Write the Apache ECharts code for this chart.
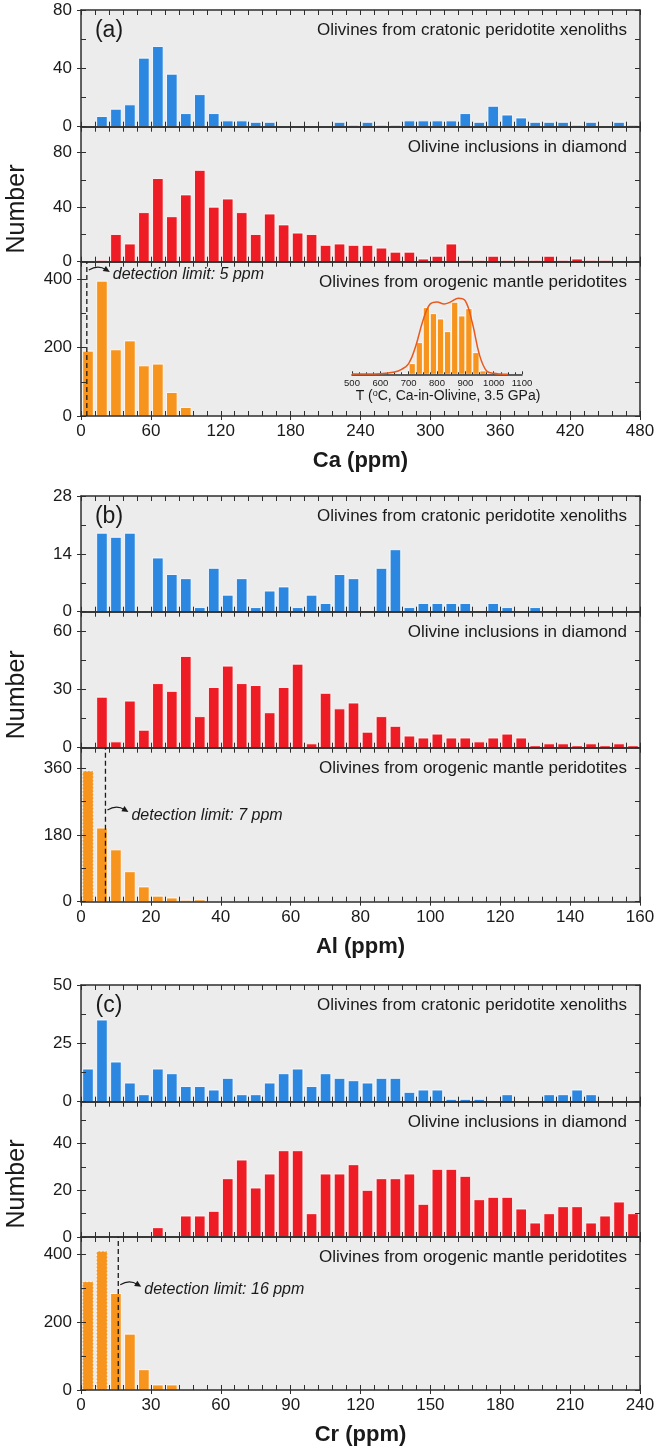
<!DOCTYPE html>
<html>
<head>
<meta charset="utf-8">
<script src="https://cdn.jsdelivr.net/npm/echarts@6/dist/echarts.min.js"></script>
<style>
  html, body { margin: 0; padding: 0; background: #fff; }
  #chart { width: 658px; height: 1447px; }
</style>
</head>
<body>
<div id="chart"></div>
<script>
// ---- Histogram bin widths (ppm) ----
const caBin = 12;
const alBin = 4;
const crBin = 6;

// ---- Counts per bin, first bin starts at 0 ppm ----
const caCratonic = [0, 7, 12, 15, 47, 55, 36, 9, 22, 9, 4, 4, 3, 3, 0, 0, 0, 0, 3, 1,
                    3, 1, 1, 4, 4, 4, 4, 9, 3, 14, 8, 6, 3, 3, 3, 1, 3, 0, 3, 1];
const caDiamond  = [0, 1, 20, 13, 36, 61, 33, 49, 67, 40, 46, 36, 20, 35, 27, 21, 20, 12, 13, 12,
                    12, 10, 7, 7, 2, 4, 13, 1, 1, 4, 1, 1, 1, 4, 1, 2, 1, 1, 0, 0];
const caOrogenic = [190, 395, 194, 220, 147, 152, 69, 25];

const alCratonic = [0, 19, 18, 19, 0, 13, 9, 8, 1, 10.5, 4, 8, 1, 5, 6, 1, 4, 2, 9, 8,
                    0, 10.5, 15, 1, 2, 2, 2, 2, 0, 2, 1, 0, 1, 0, 0, 0, 0, 0, 0, 0];
const alDiamond  = [0, 26, 3, 24, 9, 33, 29, 47, 16, 31, 42, 33, 32, 18, 31, 43, 2, 28, 20, 23,
                    8, 16, 11, 6, 5, 7, 5, 5, 3, 5, 7, 5, 1, 2, 2, 1, 2, 1, 2, 1];
const alOrogenic = [353, 199, 140, 81, 40, 15, 10, 4, 5];

const crCratonic = [14, 35, 17, 8, 3, 14, 12, 6.5, 6.5, 5, 10, 3, 3, 8, 12, 14, 6.5, 12, 10, 9,
                    8, 10, 10, 4, 5, 5, 1, 1, 1, 0, 3, 0, 0, 3, 3, 5, 3, 0, 0, 0];
const crDiamond  = [0, 0, 0, 0, 0, 4, 0, 9, 9, 11, 25, 33, 21, 27, 37, 37, 10, 27, 27, 31,
                    20, 25, 25, 27, 14, 29, 29, 26, 16, 17, 17, 12, 6, 10, 13, 13, 6, 9, 15, 10];
const crOrogenic = [320, 410, 285, 165, 60, 15, 15];

// ---- Detection limits (ppm) ----
const caLimit = 5;
const alLimit = 7;
const crLimit = 16;

// ---- Tick labels ----
const caXTicks = [0, 60, 120, 180, 240, 300, 360, 420, 480];
const alXTicks = [0, 20, 40, 60, 80, 100, 120, 140, 160];
const crXTicks = [0, 30, 60, 90, 120, 150, 180, 210, 240];

const caCratonicY = [0, 40, 80];
const caDiamondY  = [0, 40, 80];
const caOrogenicY = [0, 200, 400];
const alCratonicY = [0, 14, 28];
const alDiamondY  = [0, 30, 60];
const alOrogenicY = [0, 180, 360];
const crCratonicY = [0, 25, 50];
const crDiamondY  = [0, 20, 40];
const crOrogenicY = [0, 200, 400];

// upper end of each y axis (cratonic, diamond, orogenic)
const caYTop = [80, 99, 452];
const alYTop = [28, 70, 416];
const crYTop = [50, 58, 452];

// ---- Inset: Ca-in-olivine temperatures of the orogenic peridotites ----
const tempCenters = [687.5, 712.5, 737.5, 762.5, 787.5, 812.5, 837.5, 862.5, 887.5, 912.5, 937.5, 962.5, 987.5];
const tempCounts  = [2, 32, 95, 200, 182, 166, 128, 216, 175, 197, 65, 10, 3];
const kdeT        = [500, 550, 600, 650, 675, 700, 725, 750, 775, 800, 825, 850, 875, 900, 925, 950, 975, 1000, 1025, 1050];
const kdeDensity  = [1, 1, 2, 7, 15, 32, 85, 160, 210, 217, 211, 218, 228, 220, 153, 58, 10, 3, 1, 0.5];
const tempTicks   = [500, 600, 700, 800, 900, 1000, 1100];

// ---- Styling ----
const FONT = '"Liberation Sans", Arial, Helvetica, sans-serif';
const INK = '#1a1a1a';
const FRAME = { color: '#2e2e2e', width: 1.5 };
const TICK = { color: '#2e2e2e', width: 1 };
const COLORS = ['#2b87e0', '#ee1d25', '#f7941d'];
const TITLES = [
  'Olivines from cratonic peridotite xenoliths',
  'Olivine inclusions in diamond',
  'Olivines from orogenic mantle peridotites'
];
const PLOT_LEFT = 81, PLOT_RIGHT = 640;

const panels = [
  { letter: '(a)', top: 10, heights: [116.7, 135, 154.3], bin: caBin, xTicks: caXTicks, xName: 'Ca (ppm)',
    counts: [caCratonic, caDiamond, caOrogenic], yTicks: [caCratonicY, caDiamondY, caOrogenicY], yTop: caYTop,
    limit: caLimit, limitTextY: 413 },
  { letter: '(b)', top: 496, heights: [115.7, 136, 154], bin: alBin, xTicks: alXTicks, xName: 'Al (ppm)',
    counts: [alCratonic, alDiamond, alOrogenic], yTicks: [alCratonicY, alDiamondY, alOrogenicY], yTop: alYTop,
    limit: alLimit, limitTextY: 234 },
  { letter: '(c)', top: 985, heights: [116.7, 135.3, 154], bin: crBin, xTicks: crXTicks, xName: 'Cr (ppm)',
    counts: [crCratonic, crDiamond, crOrogenic], yTicks: [crCratonicY, crDiamondY, crOrogenicY], yTop: crYTop,
    limit: crLimit, limitTextY: 296 }
];

// histogram bar: one rectangle per bin, bins below the detection limit get a dashed outline
function histItem(bin, limit, gapFrac) {
  return function (params, api) {
    const c = api.value(0), n = api.value(1);
    if (!(n > 0)) return null;
    const a = api.coord([c - bin / 2, n]);
    const b = api.coord([c + bin / 2, 0]);
    const w = b[0] - a[0];
    const pad = w * gapFrac;
    const dashed = limit != null && c + bin / 2 <= limit;
    return {
      type: 'rect',
      shape: { x: a[0] + pad, y: a[1], width: w - 2 * pad, height: b[1] - a[1] },
      style: {
        fill: api.visual('color'),
        stroke: 'rgba(255,255,255,0.85)',
        lineWidth: 1,
        lineDash: dashed ? [2, 1.5] : null
      }
    };
  };
}

// dashed detection-limit line with its curved arrow and label
function limitItem(params, api) {
  const lim = api.value(0);
  const base = api.coord([lim, 0]);
  const lx = base[0];
  const topY = params.coordSys.y;
  const ty = api.coord([lim, api.value(1)])[1];
  const sx = lx + 2, sy = ty - 5, cx = lx + 11, cy = ty - 10.5, ex = lx + 23, ey = ty - 3;
  const ang = Math.atan2(ey - cy, ex - cx);
  const L = 6.5, W = 3;
  const cs = Math.cos(ang), sn = Math.sin(ang);
  const head = [
    [ex, ey],
    [ex - L * cs + W * sn, ey - L * sn - W * cs],
    [ex - L * cs - W * sn, ey - L * sn + W * cs]
  ];
  return {
    type: 'group',
    children: [
      { type: 'line', shape: { x1: lx, y1: base[1], x2: lx, y2: topY },
        style: { stroke: INK, lineWidth: 1.3, lineDash: [5, 3] } },
      { type: 'bezierCurve', shape: { x1: sx, y1: sy, cpx1: cx, cpy1: cy, x2: ex - L * 0.7 * cs, y2: ey - L * 0.7 * sn },
        style: { stroke: INK, lineWidth: 1.2, fill: null } },
      { type: 'polygon', shape: { points: head }, style: { fill: INK } },
      { type: 'text', x: lx + 26, y: ty,
        style: { text: 'detection limit: ' + lim + ' ppm', font: 'italic 16px ' + FONT, fill: INK,
                 align: 'left', verticalAlign: 'middle' } }
    ]
  };
}

const grids = [], xAxes = [], yAxes = [], series = [], graphics = [];

panels.forEach(function (p) {
  let y = p.top;
  const xMax = p.xTicks[p.xTicks.length - 1];
  const xMajor = p.xTicks[1] - p.xTicks[0];

  graphics.push({ type: 'text', x: 109, y: p.top + 21, z: 10,
    style: { text: p.letter, font: '23px ' + FONT, fill: INK, align: 'center', verticalAlign: 'middle' } });
  const total = p.heights.reduce(function (s, h) { return s + h; }, 0);
  graphics.push({ type: 'text', x: 17, y: p.top + total / 2 - 4, rotation: Math.PI / 2, z: 10,
    style: { text: 'Number', font: '25px ' + FONT, fill: INK, align: 'center', verticalAlign: 'middle' } });

  p.heights.forEach(function (h, k) {
    const last = k === 2;
    const g = grids.length;
    grids.push({ left: PLOT_LEFT, right: 658 - PLOT_RIGHT, top: y, height: h, show: true,
                 backgroundColor: '#ececec', borderColor: 'transparent', borderWidth: 0 });

    graphics.push({ type: 'text', x: 627, y: y + 20.5, z: 10,
      style: { text: TITLES[k], font: '17px ' + FONT, fill: INK, align: 'right', verticalAlign: 'middle' } });

    const xi = xAxes.length;
    const xTickAxis = {
      type: 'value', gridIndex: g, min: 0, max: xMax, interval: xMajor / 5, z: 3,
      splitLine: { show: false }, axisLabel: { show: false },
      axisLine: { show: true, onZero: false, lineStyle: FRAME },
      axisTick: { show: true, inside: true, length: 5, lineStyle: TICK }
    };
    xAxes.push(Object.assign({}, xTickAxis, { position: 'bottom' }));
    xAxes.push(Object.assign({}, xTickAxis, { position: 'top' }));
    if (last) {
      xAxes.push({
        type: 'value', gridIndex: g, min: 0, max: xMax, interval: xMajor, position: 'bottom', z: 3,
        splitLine: { show: false },
        axisLine: { show: false, onZero: false },
        axisTick: { show: true, inside: false, length: 4, lineStyle: TICK },
        axisLabel: { show: true, margin: 7, fontSize: 17, color: INK, fontFamily: FONT },
        name: p.xName, nameLocation: 'middle', nameGap: 34,
        nameTextStyle: { fontSize: 22, fontWeight: 'bold', color: INK, fontFamily: FONT }
      });
    }

    const yt = p.yTicks[k];
    const yMajor = yt[1] - yt[0];
    const yMax = p.yTop[k];
    const yi = yAxes.length;
    const yTickAxis = {
      type: 'value', gridIndex: g, min: 0, max: yMax, interval: yMajor / 2, z: 3,
      splitLine: { show: false }, axisLabel: { show: false },
      axisLine: { show: true, onZero: false, lineStyle: FRAME },
      axisTick: { show: true, inside: true, length: 5, lineStyle: TICK }
    };
    yAxes.push(Object.assign({}, yTickAxis, { position: 'left' }));
    yAxes.push(Object.assign({}, yTickAxis, { position: 'right' }));
    yAxes.push({
      type: 'value', gridIndex: g, min: 0, max: yMax, interval: yMajor, position: 'left', z: 3,
      splitLine: { show: false },
      axisLine: { show: false, onZero: false },
      axisTick: { show: true, inside: false, length: 4, lineStyle: TICK },
      axisLabel: { show: true, margin: 9, fontSize: 17, color: INK, fontFamily: FONT,
                   showMaxLabel: yMax === yt[yt.length - 1] }
    });

    series.push({
      type: 'custom', xAxisIndex: xi, yAxisIndex: yi, silent: true, clip: true,
      itemStyle: { color: COLORS[k] },
      renderItem: histItem(p.bin, last ? p.limit : null, 0.12),
      data: p.counts[k].map(function (n, i) { return [(i + 0.5) * p.bin, n]; })
    });
    if (last) {
      series.push({
        type: 'custom', xAxisIndex: xi, yAxisIndex: yi, silent: true, clip: false, z: 6,
        renderItem: limitItem,
        data: [[p.limit, p.limitTextY]]
      });
    }
    y += h;
  });
});

// ---- inset grid inside panel (a), orogenic subplot ----
const gi = grids.length;
grids.push({ left: 352, width: 170, top: 294.3, height: 80 });
const ixi = xAxes.length;
xAxes.push({
  type: 'value', gridIndex: gi, min: tempTicks[0], max: tempTicks[tempTicks.length - 1],
  interval: tempTicks[1] - tempTicks[0], z: 3,
  splitLine: { show: false },
  axisLine: { show: true, onZero: false, lineStyle: { color: '#2e2e2e', width: 1.5 } },
  axisTick: { show: true, inside: true, length: 3, lineStyle: TICK },
  minorTick: { show: true, splitNumber: 4, length: 2, lineStyle: TICK },
  axisLabel: { show: true, margin: 4, fontSize: 9.5, color: INK, fontFamily: FONT,
               formatter: function (v) { return String(v); } },
  name: 'T ({sup|o}C, Ca-in-Olivine, 3.5 GPa)', nameLocation: 'middle', nameGap: 12,
  nameTextStyle: { fontSize: 14, color: INK, fontFamily: FONT, padding: [0, 0, 0, 22],
                   rich: { sup: { fontSize: 9, verticalAlign: 'top', lineHeight: 14, color: INK, fontFamily: FONT } } }
});
const iyi = yAxes.length;
yAxes.push({ type: 'value', gridIndex: gi, min: 0, max: 240, show: false });
series.push({
  type: 'custom', xAxisIndex: ixi, yAxisIndex: iyi, silent: true, clip: true,
  itemStyle: { color: COLORS[2] },
  renderItem: histItem(25, null, 0.06),
  data: tempCenters.map(function (t, i) { return [t, tempCounts[i]]; })
});
series.push({
  type: 'line', xAxisIndex: ixi, yAxisIndex: iyi, silent: true, smooth: 0.4,
  symbol: 'none', lineStyle: { color: '#e85a1e', width: 1.5 }, z: 4,
  data: kdeT.map(function (t, i) { return [t, kdeDensity[i]]; })
});

const chart = echarts.init(document.getElementById('chart'), null, { renderer: 'canvas' });
chart.setOption({
  animation: false,
  backgroundColor: '#ffffff',
  textStyle: { fontFamily: FONT },
  grid: grids,
  xAxis: xAxes,
  yAxis: yAxes,
  series: series,
  graphic: graphics
});
</script>
</body>
</html>
